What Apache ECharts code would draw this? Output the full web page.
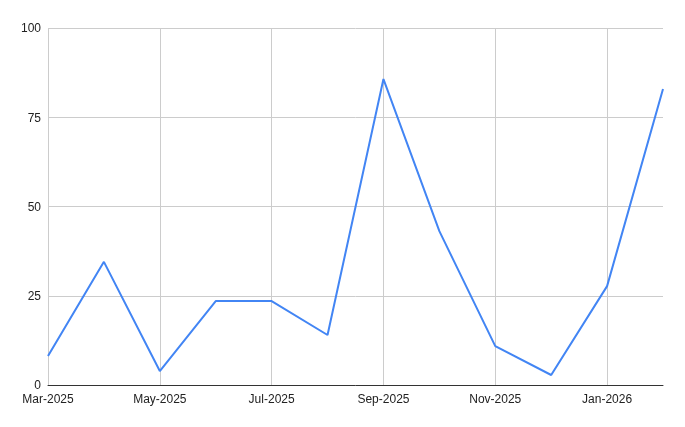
<!DOCTYPE html>
<html><head><meta charset="utf-8">
<script src="https://cdn.jsdelivr.net/npm/echarts@6/dist/echarts.min.js"></script>
<style>html,body{margin:0;padding:0;background:#fff}#c{width:685px;height:427px}</style>
</head><body><div id="c"></div>
<script>
const categories = ['Mar-2025','Apr-2025','May-2025','Jun-2025','Jul-2025','Aug-2025','Sep-2025','Oct-2025','Nov-2025','Dec-2025','Jan-2026','Feb-2026'];
const values = [8.1, 34.5, 3.9, 23.5, 23.5, 14, 85.7, 43.1, 10.9, 2.8, 27.7, 82.9];
const yTicks = [0, 25, 50, 75, 100];

const chart = echarts.init(document.getElementById('c'));
chart.setOption({
  animation: false,
  grid: { left: 48, right: 22, top: 28, bottom: 42, containLabel: false },
  xAxis: {
    type: 'category', data: categories, boundaryGap: false,
    axisLine: { show: true, lineStyle: { color: '#333', width: 1 } },
    axisTick: { show: false },
    axisLabel: { interval: 1, color: '#222', fontFamily: 'Liberation Sans, Arial', fontSize: 12, margin: 9 },
    splitLine: { show: true, interval: 1, lineStyle: { color: '#ccc', width: 1 } }
  },
  yAxis: {
    type: 'value', min: 0, max: 100, interval: 25,
    axisLine: { show: false }, axisTick: { show: false },
    axisLabel: { color: '#222', fontFamily: 'Liberation Sans, Arial', fontSize: 12, margin: 7, verticalAlign: 'top', padding: [-5, 0, 0, 0],
      formatter: v => yTicks.includes(v) ? String(v) : '' },
    splitLine: { show: true, lineStyle: { color: '#ccc', width: 1 } }
  },
  series: [{
    type: 'line', data: values, symbol: 'none',
    lineStyle: { color: '#4285F4', width: 2 }, itemStyle: { color: '#4285F4' }
  }]
});
</script></body></html>
